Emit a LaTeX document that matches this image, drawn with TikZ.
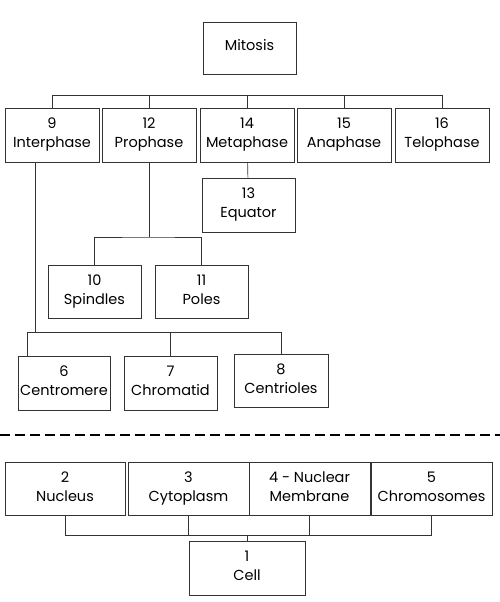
\documentclass[tikz,border=0pt]{standalone}
\usepackage{fontspec}
\setmainfont{Poppins}
\usetikzlibrary{calc}
\definecolor{LineClr}{gray}{0.2}

\begin{document}
\begin{tikzpicture}[x=1pt,y=-1pt,
  box/.style={draw=LineClr,line width=0.8pt,align=center,inner sep=0pt,
    minimum width=94pt,minimum height=54pt,text height=29pt,text depth=4pt,
    font=\fontsize{14.5}{19}\selectfont},
  wide/.style={box,minimum width=121pt,minimum height=53pt},
  link/.style={draw=LineClr,line width=0.7pt}]
\useasboundingbox (0,0) rectangle (500,602);

% mitosis tree
\node[box,minimum width=93pt,minimum height=52pt,text height=10pt] (mitosis) at (249.5,48) {Mitosis};

\node[box] (interphase) at (52,135) {9\\Interphase};
\node[box] (prophase) at (149,135) {12\\Prophase};
\node[box] (metaphase) at (247,135) {14\\Metaphase};
\node[box] (anaphase) at (344,135) {15\\Anaphase};
\node[box] (telophase) at (442,135) {16\\Telophase};

\node[box,minimum width=93pt] (equator) at (248.5,205) {13\\Equator};
\node[box,minimum width=93pt,minimum height=53pt] (spindles) at (94.5,291.5) {10\\Spindles};
\node[box,minimum width=93pt,minimum height=53pt] (poles) at (201.5,291.5) {11\\Poles};

\node[box,minimum width=92pt] (centromere) at (64,383) {6\\Centromere};
\node[box,minimum width=93pt] (chromatid) at (170.5,383) {7\\Chromatid};
\node[box,minimum height=53pt] (centrioles) at (281,380.5) {8\\Centrioles};

\coordinate (bus) at (0,95);
\coordinate (pj) at (149,237);
\coordinate (ij) at (35,332);
\coordinate (ib) at (27,332);

\draw[link] (interphase.north) -- (interphase.north |- bus) -- (telophase.north |- bus) -- (telophase.north);
\foreach \n in {prophase,metaphase,anaphase}
  \draw[link] (\n.north) -- (\n.north |- bus);
\draw[link] (metaphase) -- (equator);
\draw[link] (prophase.south) -- (pj);
\draw[link] (spindles.north) |- (pj) -| (poles.north);
\draw[link] (interphase.south -| ij) -- (ij);
\draw[link] (ib |- centromere.north) -- (ib) -| (centrioles.north);
\draw[link] (chromatid.north) -- (chromatid.north |- ib);

% separator
\coordinate (sepL) at (0,435);
\coordinate (sepR) at (500,435);
\draw[line width=1.3pt,dash pattern=on 10pt off 5pt] (sepL) -- (sepR);

% cell tree
\node[wide,minimum width=120pt] (nucleus) at (65,488.5) {2\\Nucleus};
\node[wide] (cytoplasm) at (188.5,488.5) {3\\Cytoplasm};
\node[wide] (membrane) at (309.5,488.5) {4 - Nuclear\\Membrane};
\node[wide] (chromosomes) at (431.5,488.5) {5\\Chromosomes};
\node[box,minimum width=116pt] (cell) at (247,568) {1\\Cell};

\coordinate (cb) at (0,535);
\draw[link] (nucleus.south) -- (nucleus.south |- cb) -- (chromosomes.south |- cb) -- (chromosomes.south);
\foreach \n in {cytoplasm,membrane}
  \draw[link] (\n.south) -- (\n.south |- cb);
\draw[link] (cell.north) -- (cell.north |- cb);
\end{tikzpicture}
\end{document}
